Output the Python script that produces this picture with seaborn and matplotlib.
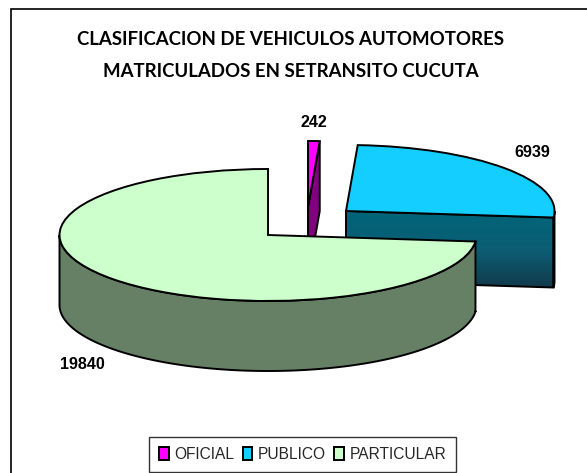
"""Clasificacion de vehiculos: exploded 3D style pie, walls built from the pie angles."""

import numpy as np
import matplotlib

matplotlib.use("Agg")
import matplotlib.pyplot as plt  # noqa: E402
import seaborn as sns  # noqa: E402
from matplotlib.colors import LinearSegmentedColormap  # noqa: E402
from matplotlib.patches import Polygon, Rectangle  # noqa: E402

categories = ["OFICIAL", "PUBLICO", "PARTICULAR"]
values = [242, 6939, 19840]
value_labels = ["242", "6939", "19840"]
title_lines = [
    "CLASIFICACION DE VEHICULOS AUTOMOTORES",
    "MATRICULADOS EN SETRANSITO CUCUTA",
]
top_colors = ["#FF00FF", "#14CEFF", "#CCFFCC"]
side_colors = ["#800080", None, "#668066"]

WIDTH, HEIGHT = 587, 473
CX, CY, RX, RY, DEPTH = 268, 235, 208.5, 66, 70
OFFSETS_PX = [(40, -28), (78, -24), (0, 0)]
LABEL_PX = [(314, 122), (532, 152), (82, 364)]
NARROW = ["Liberation Sans Narrow", "Liberation Sans"]
EDGE = "#000000"
LW = 1.4


def px_x(x):
    return (x - CX) / RX


def px_y(y):
    return (CY - y) / RY


def gradient_fill(ax, poly, zorder):
    cmap = LinearSegmentedColormap.from_list("wall", ["#006478", "#0C5E74", "#113A4B"])
    ax.add_patch(poly)
    ys = poly.get_xy()[:, 1]
    xs = poly.get_xy()[:, 0]
    img = ax.imshow(
        np.linspace(0, 1, 64).reshape(-1, 1),
        cmap=cmap,
        extent=(xs.min(), xs.max(), ys.min(), ys.max()),
        origin="upper",
        aspect="auto",
        zorder=zorder,
    )
    img.set_clip_path(poly)


sns.set_theme(style="white")
fig = plt.figure(figsize=(WIDTH / 100, HEIGHT / 100), dpi=100, facecolor="white")
ax = fig.add_axes([0, 0, 1, 1])

wedges, _ = ax.pie(
    values,
    colors=top_colors,
    startangle=90,
    counterclock=False,
    wedgeprops={"edgecolor": EDGE, "linewidth": LW},
)
ax.set_aspect("auto")

depth = DEPTH / RY
for i, wedge in enumerate(wedges):
    ox, oy = OFFSETS_PX[i][0] / RX, -OFFSETS_PX[i][1] / RY
    wedge.set_center((ox, oy))
    base_z = 2 + i * 2
    wedge.set_zorder(base_z + 1)
    t1, t2 = wedge.theta1, wedge.theta2

    # radial face at the clockwise end, seen only when it turns to the viewer
    if np.sin(np.radians(t1 - 90)) < 0:
        ex, ey = ox + np.cos(np.radians(t1)), oy + np.sin(np.radians(t1))
        face = [(ox, oy), (ex, ey), (ex, ey - depth), (ox, oy - depth)]
        if side_colors[i]:
            ax.add_patch(
                Polygon(face, facecolor=side_colors[i], edgecolor=EDGE, lw=LW, zorder=base_z)
            )
        else:
            gradient_fill(
                ax, Polygon(face, facecolor="none", edgecolor=EDGE, lw=LW, zorder=base_z + 0.5), base_z
            )

    # outer wall for the front half of the ellipse
    angles = np.radians(np.arange(np.ceil(t1), t2 + 1, 1.0))
    angles = np.concatenate([[np.radians(t1)], angles, [np.radians(t2)]])
    front = angles[np.sin(angles) <= 0]
    if len(front) > 1:
        upper = np.column_stack([ox + np.cos(front), oy + np.sin(front)])
        lower = upper[::-1] - [0, depth]
        wall = np.vstack([upper, lower])
        if side_colors[i]:
            ax.add_patch(
                Polygon(wall, facecolor=side_colors[i], edgecolor=EDGE, lw=LW, zorder=base_z)
            )
        else:
            gradient_fill(
                ax, Polygon(wall, facecolor="none", edgecolor=EDGE, lw=LW, zorder=base_z + 0.5), base_z
            )

ax.set_xlim(px_x(0), px_x(WIDTH))
ax.set_ylim(px_y(HEIGHT), px_y(0))
ax.axis("off")

# chart frame runs off the right and bottom of the picture
fig.add_artist(
    Rectangle(
        (10.5 / WIDTH, -0.05),
        1.0,
        1.05 - 9.5 / HEIGHT,
        transform=fig.transFigure,
        facecolor="none",
        edgecolor="black",
        lw=1.2,
    )
)

for line, y in zip(title_lines, [39, 71]):
    ax.text(
        px_x(291), px_y(y), line, ha="center", va="center",
        family="Lato", weight="bold", fontsize=13.4, color="black", zorder=20,
    )

for label, (x, y) in zip(value_labels, LABEL_PX):
    ax.text(
        px_x(x), px_y(y), label, ha="center", va="center",
        family=NARROW, weight="bold", fontsize=11.6, color="black", zorder=20,
    )

legend = ax.legend(
    wedges,
    categories,
    ncol=3,
    loc="center",
    bbox_to_anchor=(302.5 / WIDTH, 1 - 454.5 / HEIGHT),
    bbox_transform=fig.transFigure,
    fancybox=False,
    framealpha=1,
    edgecolor="#333333",
    borderpad=0.62,
    borderaxespad=0,
    columnspacing=0.55,
    handlelength=0.62,
    handleheight=0.85,
    handletextpad=0.35,
    prop={"family": NARROW, "size": 11.2},
)
legend.get_frame().set_linewidth(1.0)
legend.set_zorder(20)

plt.savefig("out.png", dpi=100)
plt.close(fig)
